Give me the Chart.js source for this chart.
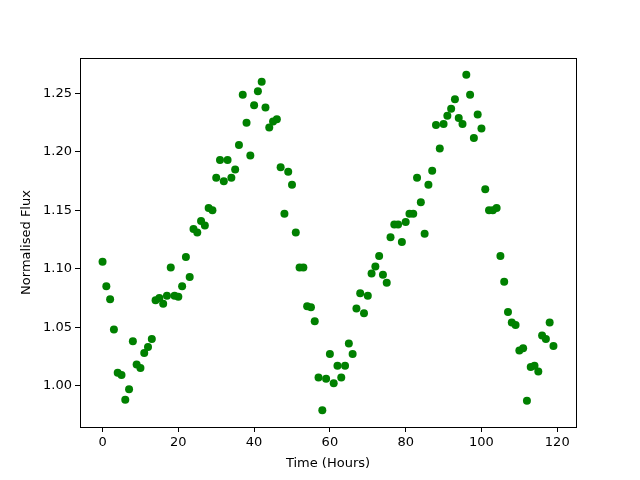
<!DOCTYPE html>
<html>
<head>
<meta charset="utf-8">
<script src="https://cdn.jsdelivr.net/npm/chart.js@4/dist/chart.umd.min.js"></script>
<style>
  html, body { margin: 0; padding: 0; background: #fff; }
  #wrap { width: 640px; height: 480px; }
</style>
</head>
<body>
<div id="wrap"><canvas id="chart" width="640" height="480"></canvas></div>
<script>
// hours 0..119, one reading per hour
const hours = Array.from({length: 120}, (_, i) => i)

const flux = [
  1.106, 1.085, 1.074, 1.048, 1.011, 1.009, 0.988, 0.997, 1.038, 1.018,
  1.015, 1.028, 1.033, 1.040, 1.073, 1.075, 1.070, 1.077, 1.101, 1.077,
  1.076, 1.085, 1.110, 1.093, 1.134, 1.131, 1.141, 1.137, 1.152, 1.150,
  1.178, 1.193, 1.175, 1.193, 1.178, 1.185, 1.206, 1.249, 1.225, 1.197,
  1.240, 1.252, 1.260, 1.238, 1.221, 1.226, 1.228, 1.187, 1.147, 1.183,
  1.172, 1.131, 1.101, 1.101, 1.068, 1.067, 1.055, 1.007, 0.979, 1.006,
  1.027, 1.002, 1.017, 1.007, 1.017, 1.036, 1.027, 1.066, 1.079, 1.062,
  1.077, 1.096, 1.102, 1.111, 1.095, 1.088, 1.127, 1.138, 1.138, 1.123,
  1.140, 1.147, 1.147, 1.178, 1.157, 1.130, 1.172, 1.184, 1.223, 1.203,
  1.224, 1.231, 1.237, 1.245, 1.229, 1.224, 1.266, 1.249, 1.212, 1.232,
  1.220, 1.168, 1.150, 1.150, 1.152, 1.111, 1.089, 1.063, 1.054, 1.052,
  1.030, 1.032, 0.987, 1.016, 1.017, 1.012, 1.043, 1.040, 1.054, 1.034
]

const xTicks = [0, 20, 40, 60, 80, 100, 120]
const yTicks = [1.00, 1.05, 1.10, 1.15, 1.20, 1.25]

const points = hours.map((h, i) => ({x: h, y: flux[i]}))

const font = {family: "'DejaVu Sans', sans-serif", size: 13}

// top and right spines
const frame = {
  id: "frame",
  afterDraw(chart) {
    const {ctx, chartArea: a} = chart
    ctx.save()
    ctx.strokeStyle = "#000"
    ctx.lineWidth = 1
    ctx.strokeRect(Math.round(a.left) + 0.5, Math.round(a.top) + 0.5,
      Math.round(a.right - a.left), Math.round(a.bottom - a.top))
    ctx.restore()
  }
}

new Chart(document.getElementById("chart"), {
  type: "scatter",
  data: {
    datasets: [{
      data: points,
      backgroundColor: "#008000",
      borderColor: "#008000",
      pointRadius: 4,
      pointHoverRadius: 4,
      borderWidth: 0
    }]
  },
  options: {
    responsive: false,
    animation: false,
    layout: { padding: { top: 58, right: 64, left: 0, bottom: 0 } },
    plugins: { legend: { display: false }, tooltip: { enabled: false } },
    scales: {
      x: {
        type: "linear",
        min: -5.95,
        max: 124.95,
        afterBuildTicks: s => { s.ticks = xTicks.map(v => ({value: v})) },
        afterFit: s => { s.height = 53 },
        grid: { drawOnChartArea: false, drawTicks: true, tickLength: 5, color: "#000" },
        border: { display: true, color: "#000" },
        ticks: { color: "#000", font, padding: 3, maxRotation: 0 },
        title: { display: true, text: "Time (Hours)", color: "#000", font, padding: { top: 2, bottom: 9 } }
      },
      y: {
        min: 0.9646,
        max: 1.2804,
        afterBuildTicks: s => { s.ticks = yTicks.map(v => ({value: v})) },
        afterFit: s => { s.width = 80 },
        grid: { drawOnChartArea: false, drawTicks: true, tickLength: 5, color: "#000" },
        border: { display: true, color: "#000" },
        ticks: { color: "#000", font, padding: 3, callback: v => v.toFixed(2) },
        title: { display: true, text: "Normalised Flux", color: "#000", font, padding: { top: 19, bottom: 2 } }
      }
    }
  },
  plugins: [frame]
})
</script>
</body>
</html>
